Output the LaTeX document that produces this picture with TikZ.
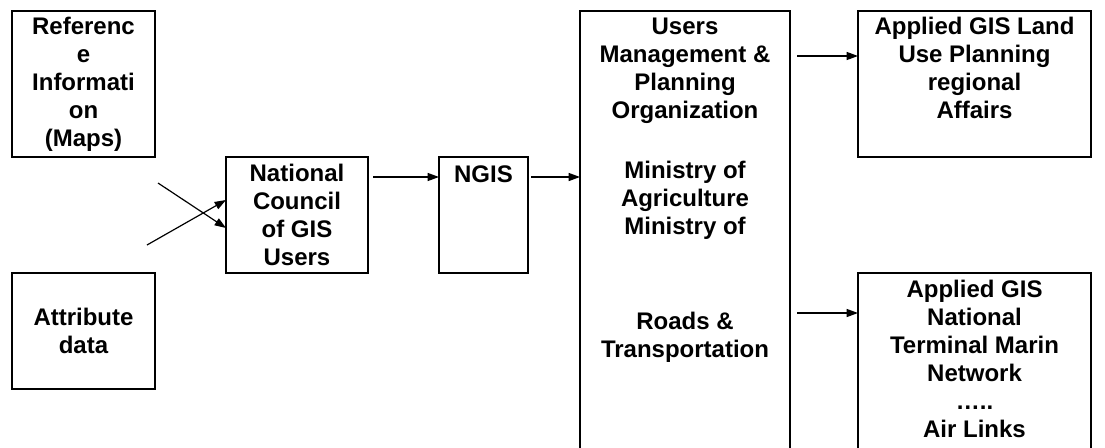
\documentclass[tikz,border=0pt]{standalone}
\usepackage{fontspec}
\setmainfont{Liberation Sans}
\usetikzlibrary{arrows.meta}

\begin{document}
\begin{tikzpicture}[>={Triangle[length=8.5pt,width=6pt]}, x=0.75pt, y=-0.75pt, font=\fontsize{18}{21}\selectfont\bfseries]
		 \tikzstyle{box} = [draw, line width=1.5pt, inner sep=0pt, outer sep=0pt, anchor=north west, align=center];
		 \tikzstyle{boxtext} = [anchor=north, inner sep=0pt, align=center];
		 \tikzstyle{link} = [->, line width=0.9pt];

		 \useasboundingbox (0,0) rectangle (1105,447);

		 \node [box, minimum width=107.25pt, minimum height=109.5pt] (ref)   at (12,11)   {Referenc\\e\\Informati\\on\\(Maps)};
		 \node [box, minimum width=107.25pt, minimum height=87pt]    (attr)  at (12,273)  {Attribute\\data};
		 \node [box, minimum width=106.5pt,  minimum height=87pt]    (nc)    at (226,157) {National\\Council\\of GIS\\Users};
		 \node [box, minimum width=66.75pt,  minimum height=87pt]    (ngis)  at (439,157) {};
		 \node [box, minimum width=157.5pt,  minimum height=336.75pt] (users) at (580,11)  {};
		 \node [box, minimum width=174.75pt, minimum height=109.5pt] (land)  at (858,11)  {};
		 \node [box, minimum width=174.75pt, minimum height=140.25pt] (marin) at (858,273) {};

		 \node [boxtext] (ngistext)  at ([shift={(0,8)}]ngis.north)  {NGIS};
		 \node [boxtext] (userstext) at ([shift={(0,7)}]users.north) {Users\\Management \&\\Planning\\Organization\\[24pt]Ministry of\\Agriculture\\Ministry of\\[50pt]Roads \&\\Transportation};
		 \node [boxtext] (landtext)  at ([shift={(0,6)}]land.north)  {Applied GIS Land\\Use Planning\\regional\\Affairs};
		 \node [boxtext] (marintext) at ([shift={(0,7)}]marin.north) {Applied GIS\\National\\Terminal Marin\\Network\\…..\\Air Links};

		 \coordinate (refout)    at ([shift={(3,26)}]ref.south east);
		 \coordinate (attrout)   at ([shift={(-8,-28)}]attr.north east);
		 \coordinate (ncout)     at ([shift={(5,20)}]nc.north east);
		 \coordinate (ngisout)   at ([shift={(3,20)}]ngis.north east);
		 \coordinate (landin)    at ([shift={(7,45)}]users.north east);
		 \coordinate (marinin)   at ([shift={(7,302)}]users.north east);

 		\path [link] (refout)  edge ([shift={(0,13)}]nc.west)
         		     (attrout) edge ([shift={(0,-15)}]nc.west)
         		     (ncout)   edge (ncout -| ngis.west)
         		     (ngisout) edge (ngisout -| users.west)
         		     (landin)  edge (landin -| land.west)
         		     (marinin) edge (marinin -| marin.west);
	\end{tikzpicture}
\end{document}
